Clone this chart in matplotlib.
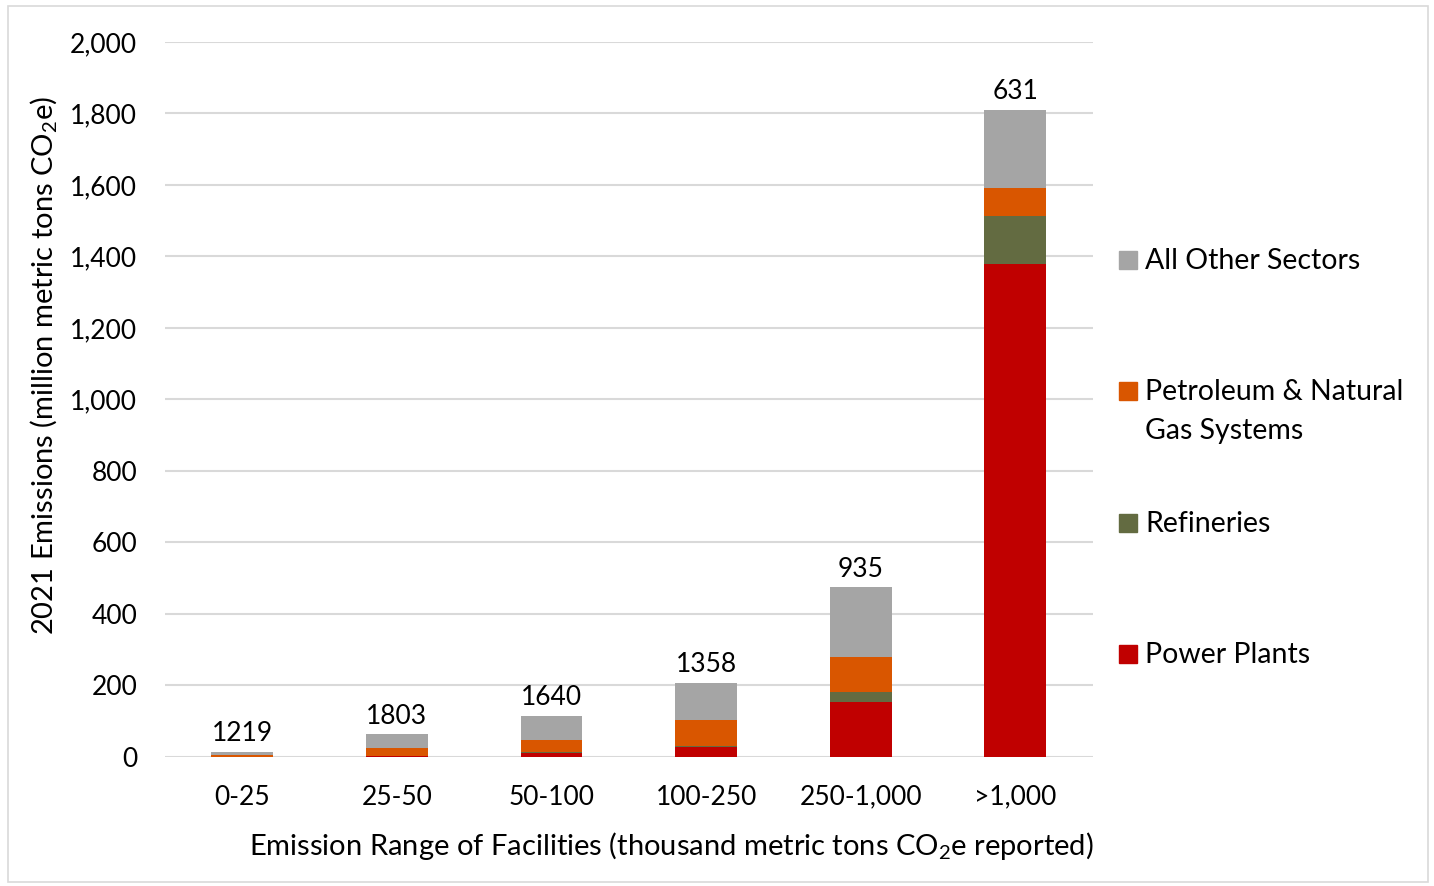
import matplotlib.pyplot as plt
from matplotlib.patches import Rectangle
import numpy as np

plt.rcParams['font.family'] = ['Lato', 'DejaVu Sans']
plt.rcParams['mathtext.fontset'] = 'custom'
plt.rcParams['mathtext.rm'] = 'Lato'
plt.rcParams['mathtext.it'] = 'Lato:italic'

ranges = ["0-25", "25-50", "50-100", "100-250", "250-1,000", ">1,000"]
facility_counts = [1219, 1803, 1640, 1358, 935, 631]

# million metric tons CO2e by sector
power_plants = [1, 2, 10, 28, 154, 1380]
refineries = [0, 0, 3, 3, 28, 134]
petroleum_gas = [5, 23, 34, 72, 98, 77]
other_sectors = [8, 39, 68, 104, 195, 220]

sectors = ["Power Plants", "Refineries", "Petroleum & Natural\nGas Systems", "All Other Sectors"]
colors = ["#C00000", "#636B41", "#D95600", "#A5A5A5"]
series = [power_plants, refineries, petroleum_gas, other_sectors]

fig = plt.figure(figsize=(14.34, 8.86), dpi=100)
ax = fig.add_axes([0.115, 0.1456, 0.647, 0.807])

x = np.arange(len(ranges))
bottom = np.zeros(len(ranges))
for vals, c in zip(series, colors):
    ax.bar(x, vals, width=0.4, bottom=bottom, color=c, zorder=3)
    bottom += np.array(vals)

for xi, total, n in zip(x, bottom, facility_counts):
    ax.annotate(str(n), (xi, total), xytext=(0, 4), textcoords="offset points",
                ha="center", va="bottom", fontsize=19)

ax.set_xlim(-0.5, len(ranges) - 0.5)
ax.set_ylim(0, 2000)
ax.set_yticks(range(0, 2001, 200))
ax.set_yticklabels([f"{v:,}" for v in range(0, 2001, 200)])
ax.set_xticks(x)
ax.set_xticklabels(ranges)
ax.tick_params(axis="both", length=0, labelsize=19)
ax.tick_params(axis="x", pad=20)
ax.tick_params(axis="y", pad=20)
ax.grid(axis="y", color="#D9D9D9", linewidth=1.5, zorder=0)
for s in ax.spines.values():
    s.set_visible(False)

ax.set_ylabel("2021 Emissions (million metric tons CO$_2$e)", fontsize=21, labelpad=8)
ax.yaxis.label.set_y(0.548)
fig.text(671 / 1434, 1 - 846 / 886, "Emission Range of Facilities (thousand metric tons CO$_2$e reported)",
         ha="center", va="center", fontsize=21)

# legend, top entry first
leg_y = [260, 391, 523, 654]
for label, c, yp in zip(sectors[::-1], colors[::-1], leg_y):
    fig.patches.append(Rectangle((1119 / 1434, 1 - (yp + 9) / 886), 18 / 1434, 18 / 886,
                                 transform=fig.transFigure, color=c))
    fig.text(1145 / 1434, 1 - (yp - 12) / 886, label, ha="left", va="top",
             fontsize=20.5, linespacing=1.6)

fig.patches.append(Rectangle((8 / 1434, 4 / 886), 1420 / 1434, 876 / 886,
                             transform=fig.transFigure, fill=False, edgecolor="#D9D9D9", linewidth=1.2))

fig.savefig("out.png", dpi=100)
